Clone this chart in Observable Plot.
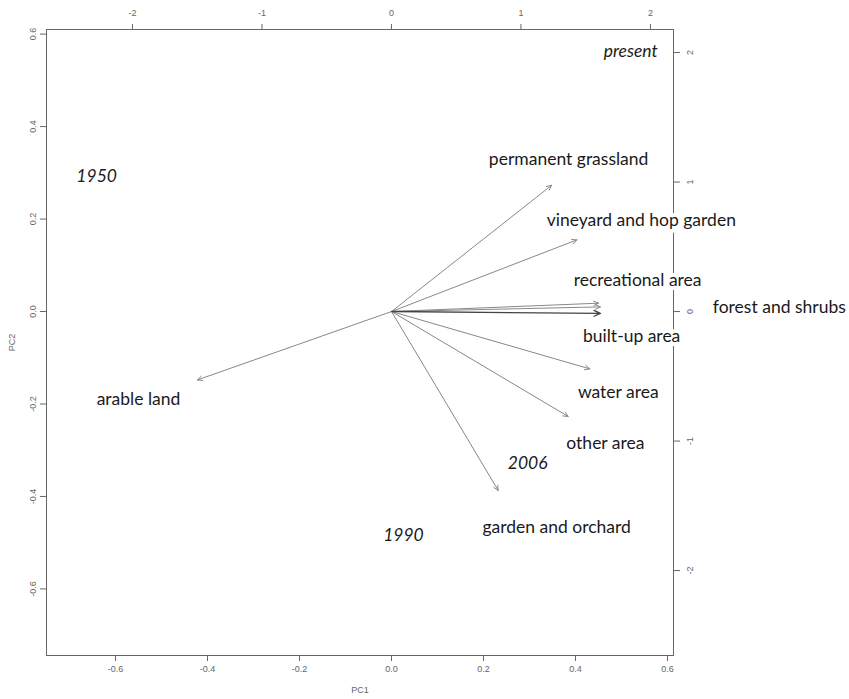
<!DOCTYPE html>
<html>
<head>
<meta charset="utf-8">
<script src="https://cdn.jsdelivr.net/npm/d3@7"></script>
<script src="https://cdn.jsdelivr.net/npm/@observablehq/plot@0.6"></script>
<style>
  body { margin: 0; background: #fff; }
  #wrap { position: relative; width: 849px; height: 699px; }
  #wrap > svg { position: absolute; left: 0; top: 0; background: transparent; }
</style>
</head>
<body>
<div id="wrap"></div>
<script>
// Variable loadings (arrows, PC1/PC2 scale)
const varNames = ["permanent grassland", "vineyard and hop garden", "recreational area", "forest and shrubs",
  "built-up area", "water area", "other area", "garden and orchard", "arable land"];
const varPC1 = [0.348, 0.403, 0.450, 0.454, 0.454, 0.431, 0.384, 0.232, -0.422];
const varPC2 = [0.273, 0.155, 0.018, 0.010, -0.004, -0.124, -0.227, -0.387, -0.148];
const varDark = [false, false, false, false, true, false, false, false, false];

// Variable label positions (PC1/PC2 scale)
const labelText = ["permanent grassland", "vineyard and hop garden", "recreational area", "forest and shrubs",
  "built-up area", "water area", "other area", "garden and orchard", "arable land"];
const labelPC1 = [0.385, 0.543, 0.535, 0.843, 0.522, 0.493, 0.465, 0.359, -0.550];
const labelPC2 = [0.329, 0.197, 0.067, 0.009, -0.054, -0.175, -0.285, -0.467, -0.190];

// Observation (period) labels
const yearText = ["present", "1950", "2006", "1990"];
const yearPC1 = [0.520, -0.641, 0.296, 0.026];
const yearPC2 = [0.562, 0.292, -0.329, -0.484];

// Axis ticks
const loadTicks = [-0.6, -0.4, -0.2, 0.0, 0.2, 0.4, 0.6];
const scoreTicks = [-2, -1, 0, 1, 2];

const W = 849, H = 699;
const margins = {marginLeft: 46, marginRight: 176, marginTop: 29, marginBottom: 44};
const axisColor = "#666";
const axisFont = "Liberation Sans, Arial, sans-serif";
const labelFont = "Lato, sans-serif";

const arrows = varNames.map((n, i) => ({name: n, x: varPC1[i], y: varPC2[i], dark: varDark[i]}));
const labels = labelText.map((t, i) => ({t, x: labelPC1[i], y: labelPC2[i]}));
const years = yearText.map((t, i) => ({t, x: yearPC1[i], y: yearPC2[i]}));

// Secondary (score) axes: top and right
const plot2 = Plot.plot({
  width: W, height: H, ...margins,
  style: {background: "transparent", fontFamily: axisFont},
  x: {domain: [-2.664, 2.178]},
  y: {domain: [-2.656, 2.178]},
  marks: [
    Plot.axisX(scoreTicks, {anchor: "top", tickSize: 6, tickPadding: 8, fontSize: 9, color: axisColor,
      tickFormat: d => String(d), label: null}),
    Plot.axisY(scoreTicks, {anchor: "right", tickSize: 6, tickPadding: 13, fontSize: 9, color: axisColor,
      tickRotate: -90, tickFormat: d => String(d), label: null})
  ]
});

// Main plot: loadings
const plot1 = Plot.plot({
  width: W, height: H, ...margins,
  style: {background: "transparent", fontFamily: axisFont},
  x: {domain: [-0.75, 0.613]},
  y: {domain: [-0.744, 0.61]},
  marks: [
    Plot.axisX(loadTicks, {anchor: "bottom", tickSize: 6, tickPadding: 4, fontSize: 9, color: axisColor,
      tickFormat: d => d.toFixed(1), label: "PC1", labelAnchor: "center", labelArrow: "none", labelOffset: 37}),
    Plot.axisY(loadTicks, {anchor: "left", tickSize: 6, tickPadding: 5, fontSize: 9, color: axisColor,
      tickRotate: -90, tickFormat: d => d.toFixed(1), label: "PC2", labelAnchor: "center", labelArrow: "none", labelOffset: 38}),
    Plot.frame({stroke: axisColor}),
    Plot.arrow(arrows.filter(d => !d.dark), {x1: 0, y1: 0, x2: "x", y2: "y", stroke: "#888", strokeWidth: 1, headLength: 8, headAngle: 50}),
    Plot.arrow(arrows.filter(d => d.dark), {x1: 0, y1: 0, x2: "x", y2: "y", stroke: "#444", strokeWidth: 1.3, headLength: 8, headAngle: 50}),
    Plot.text(labels, {x: "x", y: "y", text: "t", fontSize: 17.5, fill: "#1a1a1a", fontFamily: labelFont,
      stroke: "white", strokeWidth: 8}),
    Plot.text(years, {x: "x", y: "y", text: "t", fontSize: 17.5, fill: "#1a1a1a", fontStyle: "italic",
      fontFamily: labelFont})
  ]
});

const wrap = document.getElementById("wrap");
wrap.appendChild(plot2);
wrap.appendChild(plot1);
</script>
</body>
</html>
